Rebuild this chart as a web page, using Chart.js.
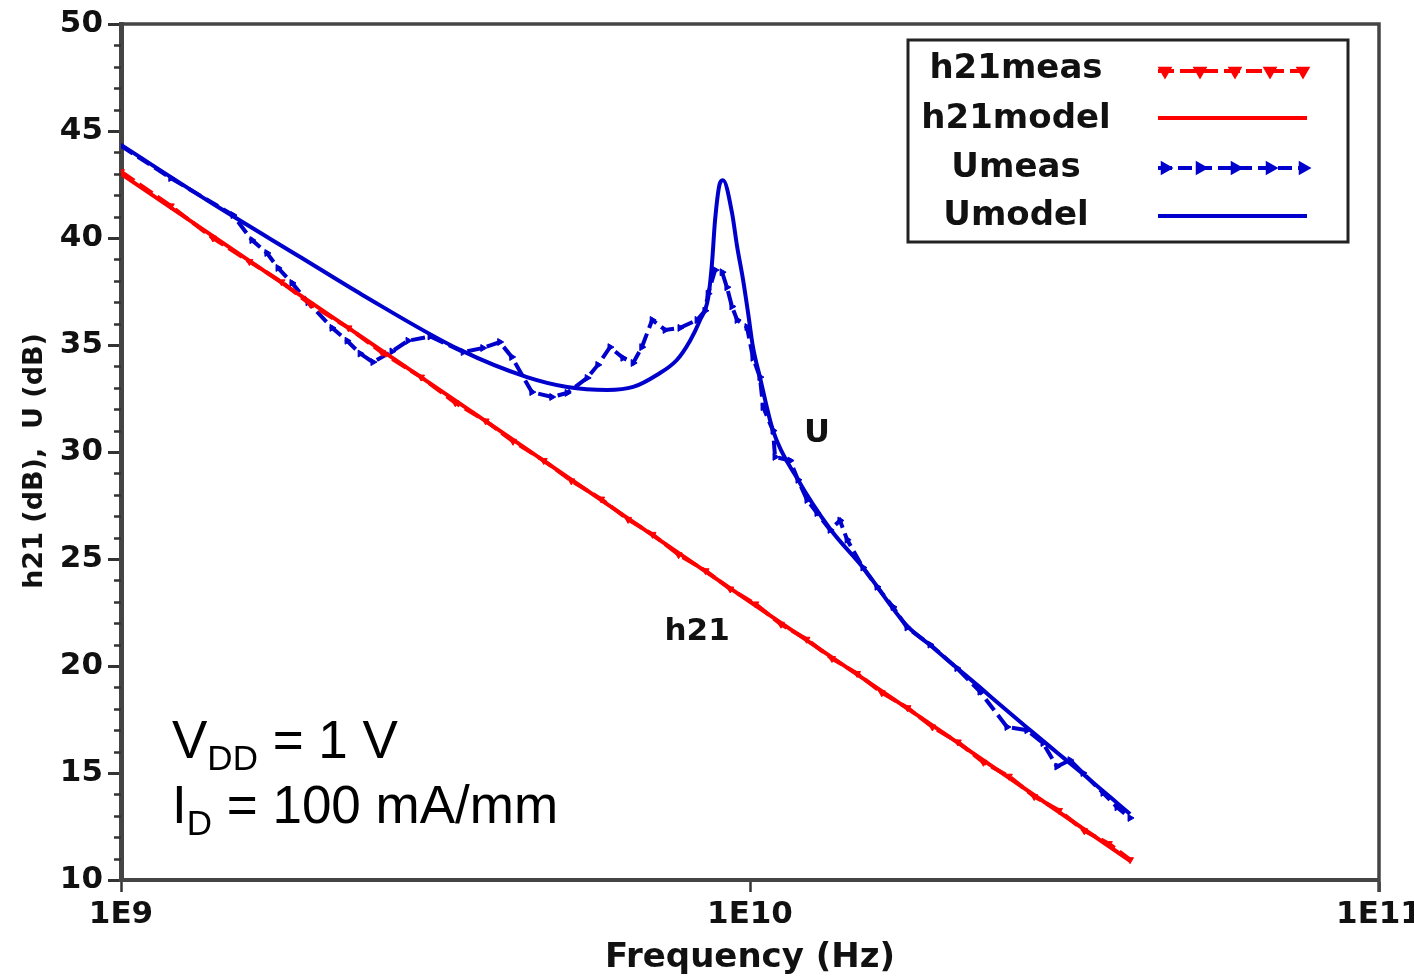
<!DOCTYPE html>
<html><head><meta charset="utf-8">
<script src="https://cdn.jsdelivr.net/npm/chart.js@4.4.0/dist/chart.umd.min.js"></script>
<style>html,body{margin:0;padding:0;background:#fff;}canvas{display:block;}</style>
</head><body>
<canvas id="c" width="1414" height="979"></canvas>
<script>
// ---------- data ----------
const seriesNames = ['h21meas', 'h21model', 'Umeas', 'Umodel'];
const xTickValues = [1e9, 1e10, 1e11];
const xTickLabels = ['1E9', '1E10', '1E11'];
const yMin = 10, yMax = 50, yMajorStep = 5, yMinorStep = 1;

const h21MeasFreqGHz = [1.0,1.2,1.4,1.6,1.8,2.0,2.3,2.6,3.0,3.4,3.8,4.2,4.7,5.2,5.8,6.4,7.0,7.7,8.5,9.3,10.2,11.2,12.3,13.5,14.8,16.2,17.8,19.5,21.4,23.5,25.8,28.3,31.0,34.0,37.2,40.2];
const h21MeasDb = [43.1,41.5,40.0,38.9,37.95,36.9,35.8,34.65,33.5,32.3,31.45,30.5,29.6,28.65,27.8,26.85,26.15,25.2,24.45,23.6,22.9,21.95,21.25,20.35,19.65,18.75,18.05,17.15,16.45,15.5,14.85,13.9,13.25,12.3,11.7,10.95];

const h21ModelFreqGHz = [1.0, 2.0, 4.0, 10.0, 20.0, 40.2];
const h21ModelDb = [43.0, 37.0, 31.0, 23.0, 17.0, 10.9];

const uMeasFreqGHz = [1.0,1.2,1.507,1.615,1.706,1.777,1.87,1.983,2.165,2.288,2.40,2.515,2.697,2.86,3.1,3.5,3.76,4.0,4.18,4.5,4.84,5.12,5.51,5.73,5.99,6.28,6.52,6.73,6.99,7.33,7.74,8.24,8.48,8.58,8.80,9.03,9.19,9.36,9.54,9.89,10.11,10.37,10.49,10.88,10.96,11.58,11.92,12.32,12.78,13.41,13.9,14.27,15.12,15.92,16.88,17.77,19.33,21.33,23.21,25.62,27.56,29.23,30.76,32.27,33.84,36.41,38.33,40.2];
const uMeasDb = [44.3,42.8,41.07,39.9,39.3,38.6,37.9,37.0,35.8,35.2,34.6,34.2,34.7,35.2,35.4,34.67,34.86,35.14,34.44,32.8,32.57,32.76,33.46,34.07,34.9,34.4,34.16,34.9,36.17,35.7,35.8,36.17,36.6,37.4,38.5,38.4,37.7,36.8,36.17,35.84,34.4,33.5,32.1,31.0,29.77,29.6,28.7,27.76,27.15,26.36,26.8,25.9,24.6,23.7,22.76,21.8,21.0,19.9,18.8,17.15,17.0,16.4,15.3,15.6,15.0,14.07,13.4,12.9];

const uModelFreqGHz = [1.0,1.41,1.93,2.42,3.46,4.42,5.12,5.93,6.52,7.11,7.65,8.03,8.33,8.58,8.70,8.80,8.96,9.06,9.36,9.54,9.75,9.93,10.11,10.37,10.88,11.92,13.41,15.12,17.77,19.33,21.33,23.21,25.25,27.56,29.23,30.76,33.84,36.41,38.33,40.2];
const uModelDb = [44.35,41.54,39.1,37.34,34.77,33.5,33.04,32.9,33.04,33.6,34.3,35.2,36.17,37.2,38.8,40.84,42.57,42.7,41.2,39.6,38.04,36.5,34.9,33.5,31.0,28.7,26.4,24.6,21.87,20.98,19.91,19.0,18.07,17.13,16.5,15.96,14.95,14.16,13.6,13.08];

// annotation anchors (data coordinates)
const uLabelAt = {f: 12.78, db: 30.85, text: 'U'};
const h21LabelAt = {f: 8.24, db: 21.6, text: 'h21'};

// ---------- build ----------
const toPts = (fs, ys) => fs.map((f, i) => ({x: f * 1e9, y: ys[i]}));
const RED = '#ff0000', BLUE = '#0000cc';

const datasets = [
  {label: seriesNames[0], data: toPts(h21MeasFreqGHz, h21MeasDb), borderColor: RED, backgroundColor: RED,
   borderWidth: 4, borderDash: [16, 6], pointStyle: 'triangle', pointRotation: 180, pointRadius: 4,
   pointBorderWidth: 1, tension: 0},
  {label: seriesNames[1], data: toPts(h21ModelFreqGHz, h21ModelDb), borderColor: RED, backgroundColor: RED,
   borderWidth: 4, pointRadius: 0, tension: 0},
  {label: seriesNames[2], data: toPts(uMeasFreqGHz, uMeasDb), borderColor: BLUE, backgroundColor: BLUE,
   borderWidth: 4, borderDash: [14, 6], pointStyle: 'triangle', pointRotation: 90, pointRadius: 4,
   pointBorderWidth: 1, tension: 0},
  {label: seriesNames[3], data: toPts(uModelFreqGHz, uModelDb), borderColor: BLUE, backgroundColor: BLUE,
   borderWidth: 4, pointRadius: 0, cubicInterpolationMode: 'monotone'}
];

const TICK_FONT = {family: 'DejaVu Sans', size: 31, weight: 'bold'};

const decorPlugin = {
  id: 'decor',
  afterDraw(chart) {
    const ctx = chart.ctx, ca = chart.chartArea, ys = chart.scales.y, xs = chart.scales.x;
    ctx.save();
    // minor y ticks
    ctx.strokeStyle = '#333'; ctx.lineWidth = 2.5; ctx.beginPath();
    for (let v = yMin; v <= yMax; v += yMinorStep) {
      if (v % yMajorStep === 0) continue;
      const py = Math.round(ys.getPixelForValue(v)) + 0.5;
      ctx.moveTo(ca.left - 7, py); ctx.lineTo(ca.left, py);
    }
    ctx.stroke();
    // frame top & right
    ctx.strokeStyle = '#444'; ctx.lineWidth = 3.5; ctx.beginPath();
    ctx.moveTo(ca.left, ca.top); ctx.lineTo(ca.right, ca.top); ctx.lineTo(ca.right, ca.bottom + 12);
    ctx.stroke();

    // curve labels
    ctx.fillStyle = '#111'; ctx.textAlign = 'center'; ctx.textBaseline = 'middle';
    ctx.font = 'bold 32px "DejaVu Sans"';
    ctx.fillText(uLabelAt.text, xs.getPixelForValue(uLabelAt.f * 1e9), ys.getPixelForValue(uLabelAt.db));
    ctx.font = 'bold 31px "DejaVu Sans"';
    ctx.fillText(h21LabelAt.text, xs.getPixelForValue(h21LabelAt.f * 1e9), ys.getPixelForValue(h21LabelAt.db));

    // bias conditions
    ctx.fillStyle = '#000'; ctx.textAlign = 'left'; ctx.textBaseline = 'alphabetic';
    let x = ca.left + 51, b1 = 758, b2 = 823;
    const big = '53px "Liberation Sans"', sub = '35px "Liberation Sans"';
    ctx.font = big; ctx.fillText('V', x, b1); let w = ctx.measureText('V').width;
    ctx.font = sub; ctx.fillText('DD', x + w, b1 + 12); w += ctx.measureText('DD').width;
    ctx.font = big; ctx.fillText(' = 1 V', x + w, b1);
    ctx.font = big; ctx.fillText('I', x, b2); w = ctx.measureText('I').width;
    ctx.font = sub; ctx.fillText('D', x + w, b2 + 12); w += ctx.measureText('D').width;
    ctx.font = big; ctx.fillText(' = 100 mA/mm', x + w, b2);

    // y-axis title (drawn here so it can sit slightly below the plot centre, as in the reference)
    ctx.save();
    ctx.translate(35, 461); ctx.rotate(-Math.PI / 2);
    ctx.font = 'bold 27px "DejaVu Sans"'; ctx.textAlign = 'center'; ctx.textBaseline = 'middle';
    ctx.fillStyle = '#111'; ctx.fillText('h21 (dB),  U (dB)', 0, 0);
    ctx.restore();

    // legend box
    const L = {x: 908, y: 40, w: 440, h: 202};
    ctx.fillStyle = '#fff'; ctx.fillRect(L.x, L.y, L.w, L.h);
    ctx.strokeStyle = '#222'; ctx.lineWidth = 3; ctx.strokeRect(L.x, L.y, L.w, L.h);
    const lineYs = [71, 118, 168, 216], textYs = [78, 128, 177, 225];
    ctx.font = 'bold 34px "DejaVu Sans"'; ctx.textAlign = 'center';
    chart.data.datasets.forEach((ds, i) => {
      ctx.fillStyle = '#111';
      ctx.fillText(ds.label, 1016, textYs[i]);
      ctx.save();
      ctx.strokeStyle = ds.borderColor; ctx.lineWidth = ds.borderWidth;
      ctx.setLineDash(ds.borderDash || []);
      ctx.beginPath(); ctx.moveTo(1158, lineYs[i]); ctx.lineTo(1307, lineYs[i]); ctx.stroke();
      ctx.setLineDash([]);
      if (ds.pointRadius > 0) {
        ctx.fillStyle = ds.borderColor; ctx.strokeStyle = ds.borderColor;
        [1165, 1200, 1235, 1270, 1303].forEach(px => Chart.helpers.drawPoint(ctx,
          {pointStyle: ds.pointStyle, rotation: ds.pointRotation, radius: 4.5, borderWidth: 1}, px, lineYs[i]));
      }
      ctx.restore();
    });
    ctx.restore();
  }
};

new Chart(document.getElementById('c'), {
  type: 'line',
  data: {datasets},
  options: {
    responsive: false, animation: false, devicePixelRatio: 1,
    layout: {padding: {left: 0, top: 24, right: 35, bottom: 0}},
    plugins: {legend: {display: false}, tooltip: {enabled: false}},
    elements: {line: {borderCapStyle: 'butt'}},
    scales: {
      x: {
        type: 'logarithmic', min: 1e9, max: 1e11,
        afterBuildTicks: s => { s.ticks = xTickValues.map(v => ({value: v})); },
        afterFit: s => { s.height = 99; s.paddingLeft = 0; s.paddingRight = 0; },
        ticks: {autoSkip: false, maxRotation: 0, color: '#111', font: TICK_FONT, padding: 4,
          callback: v => xTickLabels[xTickValues.indexOf(v)] ?? ''},
        grid: {drawOnChartArea: false, drawTicks: true, tickLength: 12, tickWidth: 2.5, tickColor: '#333'},
        border: {display: true, color: '#444', width: 4},
        title: {display: true, text: 'Frequency (Hz)', color: '#111',
          font: {family: 'DejaVu Sans', size: 34, weight: 'bold'}, padding: {top: 0, bottom: 0}}
      },
      y: {
        type: 'linear', min: yMin, max: yMax,
        afterFit: s => { s.width = 121; s.paddingTop = 0; s.paddingBottom = 0; },
        ticks: {stepSize: yMajorStep, color: '#111', font: TICK_FONT, padding: 5},
        grid: {drawOnChartArea: false, drawTicks: true, tickLength: 13, tickWidth: 3, tickColor: '#333'},
        border: {display: true, color: '#444', width: 5},
        title: {display: false}
      }
    }
  },
  plugins: [decorPlugin]
});
</script>
</body></html>
